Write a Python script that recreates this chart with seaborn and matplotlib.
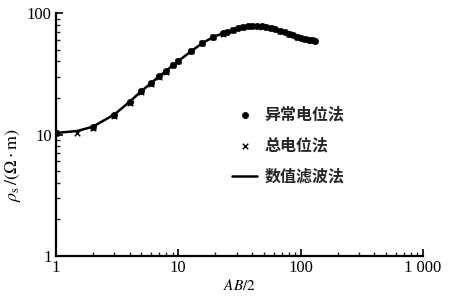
import numpy as np
import pandas as pd
import seaborn as sns
import matplotlib.pyplot as plt
from matplotlib.ticker import LogLocator, FixedLocator, FixedFormatter, NullFormatter

# 异常电位法 (dots)
x_dot = [1, 2, 3, 4, 5, 6, 7, 8, 9, 10, 12.8, 15.7, 19.3, 23, 25, 28, 31, 34, 37, 40,
         44, 48, 52, 57, 62, 68, 74, 80, 87, 94, 101, 108, 116, 124, 132]
y_dot = [10.3, 11.5, 14.5, 18.5, 22.8, 26.5, 30.3, 33.3, 37.3, 40.3, 48.7, 56.6, 63.5, 68, 70,
         73, 75, 76.5, 77.5, 78, 78, 77.5, 76.5, 75, 73.5, 71.5, 69.5, 67.5, 65.5, 64, 62.5,
         61.5, 60.5, 59.8, 59.3]

# 总电位法 (crosses)
x_cross = [1, 1.5, 2, 3, 4, 5, 6, 7, 8, 9, 10, 12.8, 15.7, 19.3, 23, 28, 34, 40, 48, 57, 68, 80, 94, 108, 124]
y_cross = [10.2, 10.2, 11.4, 14.2, 18.3, 22.6, 26.3, 30.0, 33.0, 37.0, 40.0, 48.3, 56.2, 63.0, 67.7,
           72.7, 76.2, 77.8, 77.3, 74.8, 71.3, 67.3, 63.8, 61.3, 59.6]

# 数值滤波法 (line)
x_line = [1, 1.5, 2, 3, 4, 5, 6, 7, 8, 9, 10, 12.8, 15.7, 19.3, 23, 28, 34, 40, 48, 57, 68,
          80, 94, 108, 124, 132]
y_line = [10.3, 10.7, 11.6, 14.6, 18.6, 22.8, 26.5, 30.3, 33.4, 37.2, 40.3, 48.6, 56.5, 63.4,
          68, 73, 76.5, 78, 77.5, 75, 71.5, 67.5, 64, 61.5, 59.8, 59.3]

labels = ["异常电位法", "总电位法", "数值滤波法"]

sns.set_style("ticks")
plt.rcParams['font.family'] = ['Liberation Serif', 'Noto Sans CJK SC', 'DejaVu Sans']
plt.rcParams['mathtext.fontset'] = 'stix'

fig = plt.figure(figsize=(4.51, 3.03), dpi=100)
ax = fig.add_axes([0.124, 0.155, 0.814, 0.802])

sns.lineplot(x=x_line, y=y_line, ax=ax, color="black", linewidth=1.8, label=labels[2], zorder=2)
sns.scatterplot(x=x_dot, y=y_dot, ax=ax, color="black", marker="o", s=20, edgecolor="black",
                linewidth=0.5, label=labels[0], zorder=3)
sns.scatterplot(x=x_cross, y=y_cross, ax=ax, color="black", marker="x", s=16, linewidth=1.0,
                label=labels[1], zorder=3)

ax.set_xscale("log")
ax.set_yscale("log")
ax.set_xlim(1, 1000)
ax.set_ylim(1, 100)

ax.xaxis.set_major_locator(FixedLocator([1, 10, 100, 1000]))
ax.xaxis.set_major_formatter(FixedFormatter(["1", "10", "100", "1 000"]))
ax.xaxis.set_minor_locator(LogLocator(base=10, subs=np.arange(2, 10)))
ax.xaxis.set_minor_formatter(NullFormatter())
ax.yaxis.set_major_locator(FixedLocator([1, 10, 100]))
ax.yaxis.set_major_formatter(FixedFormatter(["1", "10", "100"]))
ax.yaxis.set_minor_locator(LogLocator(base=10, subs=np.arange(2, 10)))
ax.yaxis.set_minor_formatter(NullFormatter())

ax.tick_params(which="major", direction="in", length=5, width=1.2, labelsize=12, pad=3, colors="black")
ax.tick_params(which="minor", direction="in", length=3, width=1.0)
for lab in ax.get_xticklabels() + ax.get_yticklabels():
    lab.set_fontfamily("Liberation Serif")

sns.despine(ax=ax)
for sp in ["left", "bottom"]:
    ax.spines[sp].set_linewidth(1.6)
    ax.spines[sp].set_color("black")

ax.set_xlabel(r"$AB/2$", fontsize=11, labelpad=1, color="black")
ax.set_ylabel(r"$\rho_{\mathrm{s}}\,/(\Omega\cdot\mathrm{m})$", fontsize=13, color="black")
ax.yaxis.set_label_coords(-0.09, 0.375)

h, l = ax.get_legend_handles_labels()
order = [l.index(n) for n in labels]
leg = ax.legend([h[i] for i in order], [l[i] for i in order], loc="upper left",
                bbox_to_anchor=(0.44, 0.675), frameon=False, handlelength=1.6,
                labelspacing=0.95, handletextpad=0.45, markerscale=1.0,
                prop={"family": "Noto Sans CJK SC", "size": 11.5, "weight": "bold"})

fig.savefig("out.png", dpi=100)
